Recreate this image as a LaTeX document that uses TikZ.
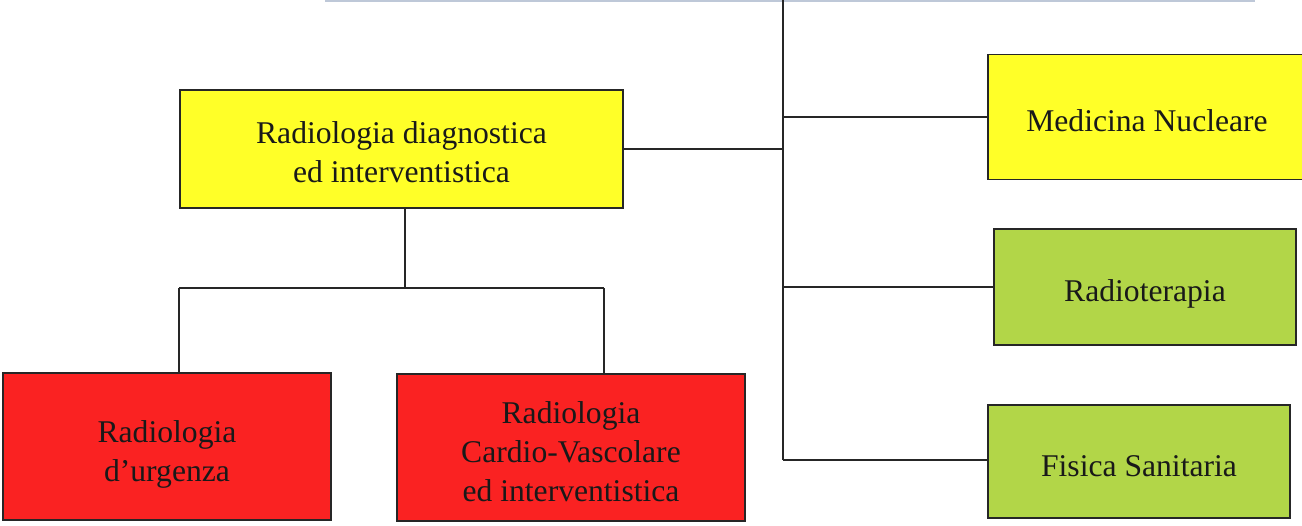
\documentclass[tikz,border=0pt]{standalone}
\usepackage{fontspec}
\setmainfont{Liberation Serif}
\definecolor{boxyellow}{RGB}{255,255,40}
\definecolor{boxgreen}{RGB}{178,214,72}
\definecolor{boxred}{RGB}{250,34,34}
\definecolor{topline}{RGB}{190,200,216}
\newcommand{\topgap}[1]{\rule{0pt}{#1}}
\begin{document}
\begin{tikzpicture}[x=0.02cm,y=-0.02cm,
  unit/.style={draw=black!85, line width=1.1pt, inner sep=0pt, outer sep=0pt,
    align=center, font=\fontsize{18}{22.2}\selectfont, text=black!90},
  conn/.style={draw=black!85, line width=1.1pt}]
\useasboundingbox (0,0) rectangle (1302,525);
\fill[white] (0,0) rectangle (1302,525);
\draw[topline, line width=0.8pt] (325,1) -- (1255,1);
% boxes
\node[unit, fill=boxyellow, minimum width=443*0.02cm, minimum height=118*0.02cm] (rd) at (401.5,149) {\topgap{0.92em}Radiologia diagnostica\\ed interventistica};
\node[unit, fill=boxyellow, minimum width=318*0.02cm, minimum height=125*0.02cm] (mn) at (1147,117) {\topgap{0.95em}Medicina Nucleare};
\node[unit, fill=boxgreen, minimum width=302*0.02cm, minimum height=116*0.02cm] (rt) at (1145,287) {\topgap{1.1em}Radioterapia};
\node[unit, fill=boxgreen, minimum width=302*0.02cm, minimum height=113*0.02cm] (fs) at (1139,461.5) {\topgap{0.95em}Fisica Sanitaria};
\node[unit, fill=boxred, minimum width=328*0.02cm, minimum height=147*0.02cm] (ru) at (167,446.5) {\topgap{1.2em}Radiologia\\d'urgenza};
\node[unit, fill=boxred, minimum width=348*0.02cm, minimum height=147*0.02cm] (cv) at (571,447.5) {\topgap{0.95em}Radiologia\\Cardio-Vascolare\\ed interventistica};
% trunk
\coordinate (ttop) at (783,0);
\coordinate (tbot) at (783,460);
\draw[conn] (ttop) -- (tbot);
\draw[conn] (rd.east) -- (rd.east -| ttop);
\draw[conn] (mn.west) -- (mn.west -| ttop);
\draw[conn] (rt.west) -- (rt.west -| ttop);
\draw[conn] (fs.west |- tbot) -- (tbot);
% sub-tree
\coordinate (j) at (405,288);
\coordinate (j1) at (179,288);
\coordinate (j2) at (604,288);
\draw[conn] (j |- rd.south) -- (j);
\draw[conn] (j1) -- (j2);
\draw[conn] (j1) -- (j1 |- ru.north);
\draw[conn] (j2) -- (j2 |- cv.north);
\end{tikzpicture}
\end{document}
